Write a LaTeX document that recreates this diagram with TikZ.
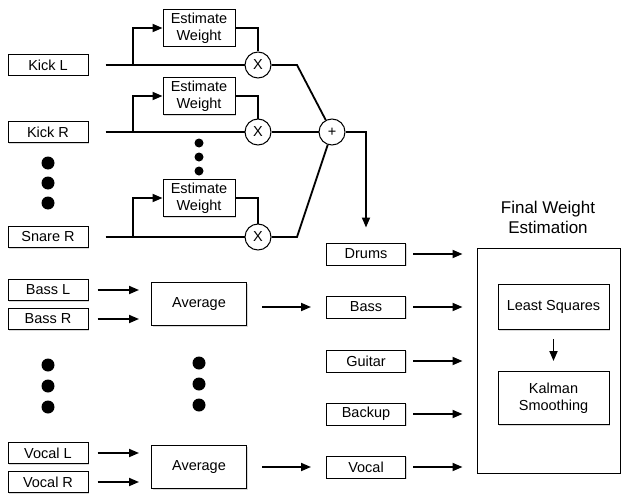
\documentclass[tikz,border=0pt]{standalone}
\usepackage{fontspec}
\setmainfont{Liberation Sans}
\usetikzlibrary{arrows.meta,shadows}

\begin{document}
\begin{tikzpicture}[x=1pt,y=-1pt,
		font=\fontsize{14.5}{17}\selectfont,
		box/.style={draw,fill=white,line width=1pt,align=center,inner sep=0pt,
			drop shadow={opacity=.3,shadow xshift=1pt,shadow yshift=-1pt}},
		src/.style={box,minimum width=80pt,minimum height=21pt},
		est/.style={box,minimum width=72pt,minimum height=37pt},
		avg/.style={box,minimum width=95pt,minimum height=43pt},
		stem/.style={box,minimum width=79pt,minimum height=22pt},
		op/.style={circle,draw,fill=white,line width=1pt,minimum size=26pt,inner sep=0pt},
		wire/.style={line width=1.8pt},
		flow/.style={wire,-{Triangle[length=10pt,width=8pt]}},
		blob/.style={circle,fill=black,inner sep=0pt,minimum size=#1},
		blob/.default=13pt]
	\useasboundingbox (0,0) rectangle (621,495);

	% inputs
	\node[src] (kickL) at (48,65) {Kick L};
	\node[src] (kickR) at (48,132) {Kick R};
	\node[src] (snareR) at (48,237) {Snare R};
	\node[src] (bassL) at (48,290) {Bass L};
	\node[src] (bassR) at (48,319) {Bass R};
	\node[src] (vocalL) at (48,453) {Vocal L};
	\node[src] (vocalR) at (48,482) {Vocal R};

	% drum weighting
	\node[est] (estL) at (199,28) {Estimate\\Weight};
	\node[est] (estR) at (199,96) {Estimate\\Weight};
	\node[est] (estS) at (199,198) {Estimate\\Weight};
	\node[op] (mulL) at (258,65) {X};
	\node[op] (mulR) at (258,132) {X};
	\node[op] (mulS) at (258,237) {X};
	\node[op] (sum) at (332,132) {+};

	\node[avg] (avgB) at (199,304) {Average};
	\node[avg] (avgV) at (199,467) {Average};

	% stems
	\node[stem] (drums) at (366,254) {Drums};
	\node[stem] (bass) at (366,307) {Bass};
	\node[stem] (guitar) at (366,361) {Guitar};
	\node[stem] (backup) at (366,414) {Backup};
	\node[stem] (vocal) at (366,467) {Vocal};

	% final estimation
	\node[box,minimum width=143pt,minimum height=225pt] (final) at (548.5,360.5) {};
	\node[font=\fontsize{17}{20}\selectfont,align=center] (title) at (548,217) {Final Weight\\Estimation};
	\node[box,minimum width=111pt,minimum height=45pt] (lsq) at (553.5,307) {Least Squares};
	\node[box,minimum width=111pt,minimum height=53pt] (kalman) at (553.5,398) {Kalman\\Smoothing};

	\foreach \y in {163,183,203,365,386,407} \node[blob] (d48-\y) at (48,\y) {};
	\foreach \y in {363,384,405} \node[blob] (d199-\y) at (199,\y) {};
	\foreach \y in {143,157,171} \node[blob=9pt] (s199-\y) at (199,\y) {};

	\coordinate (tapL) at (133,65);
	\coordinate (tapR) at (133,132);
	\coordinate (tapS) at (133,237);
	\coordinate (bendL) at (297,65);
	\coordinate (bendS) at (297,237);

	\foreach \a/\e/\m in {kickL/estL/mulL, kickR/estR/mulR, snareR/estS/mulS}{
		\draw[wire,shorten <=17pt] (\a) -- (\m);
	}
	\draw[flow] (tapL) |- (estL);
	\draw[flow] (tapR) |- (estR);
	\draw[flow] (tapS) |- (estS);
	\draw[wire] (estL) -| (mulL);
	\draw[wire] (estR) -| (mulR);
	\draw[wire] (estS) -| (mulS);
	\draw[wire] (mulL) -- (bendL) -- (sum);
	\draw[wire] (mulR) -- (sum);
	\draw[wire] (mulS) -- (bendS) -- (sum);
	\draw[flow,shorten >=15pt] (sum) -| (drums);

	\foreach \a/\b in {bassL/avgB, bassR/avgB, vocalL/avgV, vocalR/avgV}
		\draw[flow,shorten <=9pt,shorten >=12pt] (\a.east) -- (\a.east -| \b.west);
	\draw[flow,shorten <=15pt,shorten >=15pt] (avgB.east |- bass) -- (bass);
	\draw[flow,shorten <=15pt,shorten >=15pt] (avgV) -- (vocal);

	\foreach \s in {drums,bass,guitar,backup,vocal}
		\draw[flow,shorten <=7pt,shorten >=14pt] (\s.east) -- (\s.east -| final.west);
	\draw[flow,shorten <=9pt,shorten >=10pt] (lsq) -- (kalman);
\end{tikzpicture}
\end{document}
